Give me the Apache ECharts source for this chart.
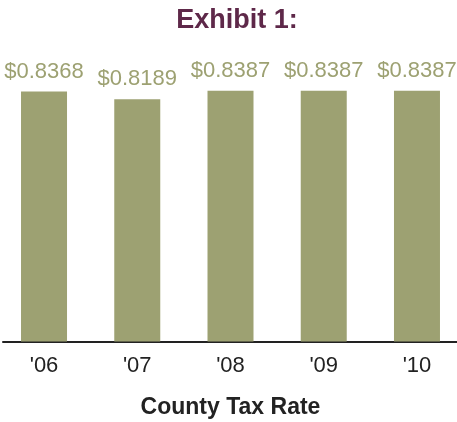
<!DOCTYPE html>
<html>
<head>
<meta charset="utf-8">
<script src="https://cdn.jsdelivr.net/npm/echarts@6/dist/echarts.min.js"></script>
<style>
  html, body { margin: 0; padding: 0; background: #fff; }
  #chart { width: 457px; height: 422px; }
</style>
</head>
<body>
<div id="chart"></div>
<script>
// County tax rate by fiscal year
const years = ["'06", "'07", "'08", "'09", "'10"];
const rates = [0.8368, 0.8189, 0.8387, 0.8387, 0.8387];

const olive = '#9da172';
const ink = '#222222';

const chart = echarts.init(document.getElementById('chart'), null, { renderer: 'canvas' });

chart.setOption({
  animation: false,
  backgroundColor: '#ffffff',
  title: {
    text: 'Exhibit 1:',
    left: 232,
    textAlign: 'center',
    top: 2,
    textStyle: {
      fontFamily: 'Liberation Sans, Arial, sans-serif',
      fontSize: 27,
      fontWeight: 'bold',
      color: '#5e2849'
    }
  },
  grid: [
    // bars
    { left: -2.6, width: 466.2, top: 85.9, bottom: 80.5, containLabel: false, outerBoundsMode: 'none' },
    // baseline rule under the bars
    { left: 3, right: 0, top: 85.9, bottom: 80.5, containLabel: false, outerBoundsMode: 'none' }
  ],
  xAxis: [
    {
      type: 'category',
      gridIndex: 0,
      data: years,
      axisLine: { show: false },
      axisTick: { show: false },
      axisLabel: {
        margin: 13,
        fontFamily: 'Liberation Sans, Arial, sans-serif',
        fontSize: 22,
        color: ink
      },
      name: 'County Tax Rate',
      nameLocation: 'middle',
      nameGap: 55,
      nameTextStyle: {
        fontFamily: 'Liberation Sans, Arial, sans-serif',
        fontSize: 23,
        fontWeight: 'bold',
        color: ink
      }
    },
    {
      type: 'category',
      gridIndex: 1,
      data: years,
      axisLine: { show: true, lineStyle: { color: ink, width: 2 } },
      axisTick: { show: false },
      axisLabel: { show: false }
    }
  ],
  yAxis: [
    { type: 'value', gridIndex: 0, min: 0.25, max: 0.85, show: false },
    { type: 'value', gridIndex: 1, min: 0.25, max: 0.85, show: false }
  ],
  series: [
    {
      type: 'bar',
      xAxisIndex: 0,
      yAxisIndex: 0,
      data: rates,
      barWidth: 46,
      itemStyle: { color: olive },
      label: {
        show: true,
        position: 'top',
        distance: 9,
        formatter: (p) => '$' + p.value.toFixed(4),
        fontFamily: 'Liberation Sans, Arial, sans-serif',
        fontSize: 22,
        color: olive
      }
    }
  ]
});
</script>
</body>
</html>
